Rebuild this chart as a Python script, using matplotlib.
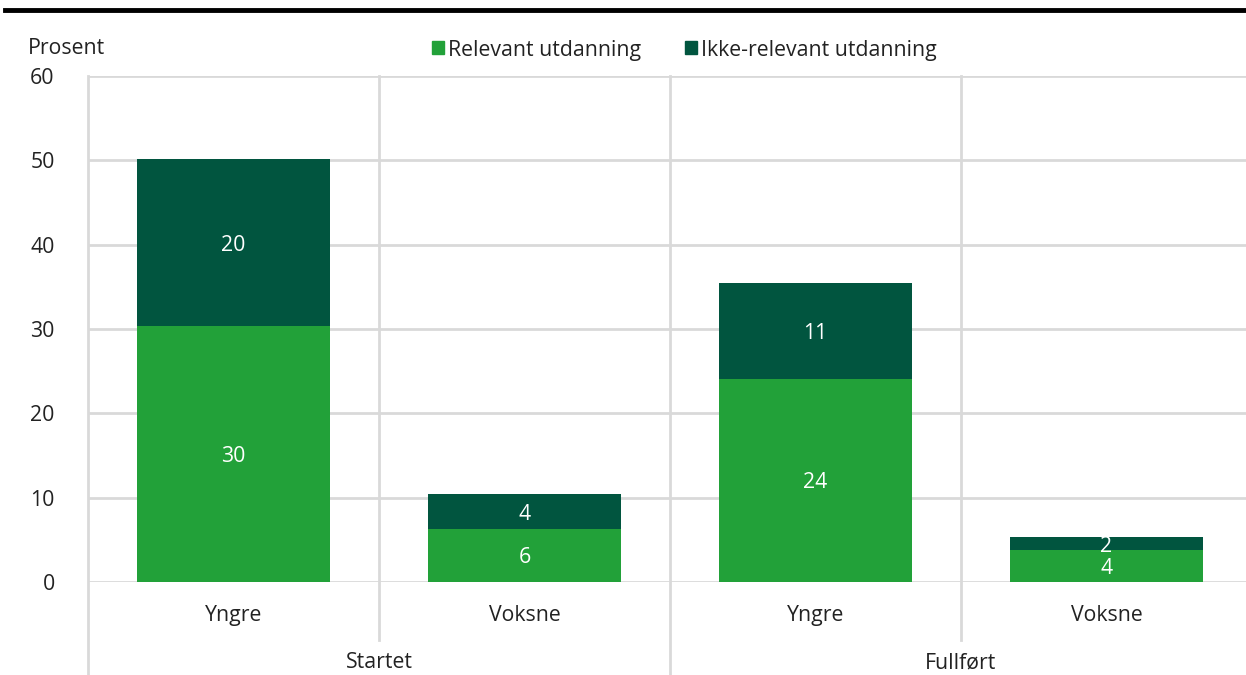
import numpy as np
import matplotlib
matplotlib.use('Agg')
from matplotlib import pyplot as plt
from matplotlib.lines import Line2D
from matplotlib.patches import Rectangle

plt.rcParams['font.family'] = ['Open Sans', 'DejaVu Sans']

groups = ['Startet', 'Fullført']
ages = ['Yngre', 'Voksne', 'Yngre', 'Voksne']
relevant = [30.3, 6.3, 24.1, 3.8]
ikke_relevant = [19.8, 4.1, 11.4, 1.5]
series_names = ['Relevant utdanning', 'Ikke-relevant utdanning']
c_rel = '#22a139'
c_ikke = '#01553f'
grid_c = '#d9d9d9'
fs = 15.3

fig = plt.figure(figsize=[12.46, 6.75], dpi=100)
ax = fig.add_axes([88 / 1246, 1 - 582 / 675, (1252 - 88) / 1246, (582 - 76) / 675])

x = np.arange(len(ages))
ax.bar(x, relevant, width=0.66, color=c_rel, zorder=3)
ax.bar(x, ikke_relevant, width=0.66, bottom=relevant, color=c_ikke, zorder=3)

for xi, r, k in zip(x, relevant, ikke_relevant):
    ax.text(xi, r / 2, f'{r:.0f}', ha='center', va='center_baseline', color='white', fontsize=fs, zorder=4)
    ax.text(xi, r + k / 2, f'{k:.0f}', ha='center', va='center_baseline', color='white', fontsize=fs, zorder=4)

ax.set_xlim(-0.5, 3.5)
ax.set_ylim(0, 60)
ax.set_yticks(range(0, 61, 10))
ax.set_xticks([])
ax.tick_params(axis='y', length=0, pad=24, labelsize=fs, labelcolor='#222222')
for s in ax.spines.values():
    s.set_visible(False)
ax.yaxis.grid(True, color=grid_c, lw=2, zorder=0)

# vertical separators, partly below the axis
trans = ax.get_xaxis_transform()
for xv in [-0.5, 1.5, 3.5]:
    ax.add_line(Line2D([xv, xv], [1, -0.2], transform=trans, color=grid_c, lw=2, clip_on=False, zorder=1))
for xv in [0.5, 2.5]:
    ax.add_line(Line2D([xv, xv], [1, -0.115], transform=trans, color=grid_c, lw=2, clip_on=False, zorder=1))

for xi, a in zip(x, ages):
    ax.text(xi, -0.062, a, transform=trans, ha='center', va='center_baseline', fontsize=fs, color='#222222')
for gi, g in enumerate(groups):
    ax.text(gi * 2 + 0.5, -0.155, g, transform=trans, ha='center', va='center_baseline', fontsize=fs, color='#222222')

fig.text(28 / 1246, 1 - 46 / 675, 'Prosent', ha='left', va='center_baseline', fontsize=fs, color='#222222')

# legend
for xs, name, c in zip([432, 685], series_names, [c_rel, c_ikke]):
    fig.patches.append(Rectangle((xs / 1246, 1 - 54 / 675), 12 / 1246, 13 / 675,
                                 transform=fig.transFigure, color=c))
    fig.text((xs + 16) / 1246, 1 - 48 / 675, name, ha='left', va='center_baseline', fontsize=fs, color='#222222')

# top rule from cut-off header
fig.add_artist(Line2D([5 / 1246, 1], [1 - 10 / 675, 1 - 10 / 675], transform=fig.transFigure,
                      color='black', lw=3.5))

fig.savefig('out.png', dpi=100)
